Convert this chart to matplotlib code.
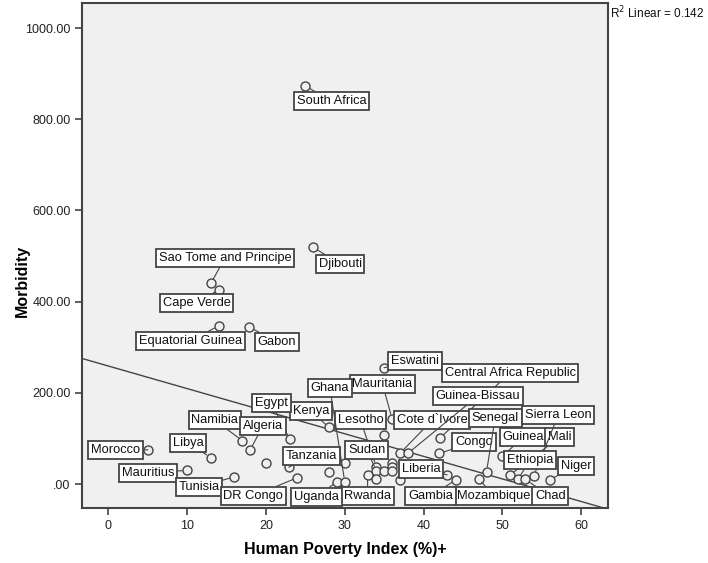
import matplotlib
matplotlib.use('Agg')
import matplotlib.pyplot as plt

plt.rcParams['font.family'] = ['Liberation Sans', 'DejaVu Sans']

# data: country label ('' = unlabelled point), HPI (%), morbidity
countries = ['South Africa', 'Djibouti', 'Sao Tome and Principe', 'Cape Verde',
             'Equatorial Guinea', 'Gabon', 'Eswatini', 'Mauritania', 'Kenya', '',
             'Central Africa Republic', 'Egypt', 'Namibia', 'Morocco', 'Algeria',
             'Cote d`Ivore', 'Guinea-Bissau', 'Congo', 'Guinea', 'Libya', '',
             '', '', 'Lesotho', '', 'Tanzania', 'Mauritius', 'Sudan', '', '', '',
             'Senegal', 'Rwanda', 'Liberia', 'Mali', 'Tunisia', 'DR Congo', '',
             'Mozambique', 'Sierra Leon', 'Ethiopia', 'Chad', '', 'Gambia', 'Niger',
             'Uganda', 'Ghana']
hpi = [25.0, 26.0, 13.0, 14.0, 14.0, 17.9, 35.0, 36.0, 28.0, 35.0,
       42.1, 23.0, 17.0, 5.0, 18.0, 37.0, 38.0, 42.0, 50.0, 13.0, 20.0,
       30.0, 36.0, 34.0, 36.0, 22.9, 10.0, 34.0, 35.0, 36.0, 28.0,
       48.0, 32.9, 43.0, 51.0, 16.0, 24.0, 34.0,
       47.0, 54.0, 52.0, 52.9, 37.0, 44.1, 56.0,
       29.0, 30.0]
morbidity = [873, 519, 440, 426, 347, 344, 255, 143, 124, 107,
             101, 98, 95, 75, 75, 67, 67, 67, 61, 58, 46,
             45, 45, 38, 38, 37, 30, 29, 29, 29, 26,
             27, 20, 20, 20, 16, 14, 12,
             12, 18, 10, 10, 9, 9, 9,
             5, 5]

# linear fit line as shown (intercept, slope) and its R squared
fit_intercept = 258.7
fit_slope = -4.95
r_squared = 0.142

yticks = [0, 200, 400, 600, 800, 1000]
ytick_labels = ['.00', '200.00', '400.00', '600.00', '800.00', '1000.00']
xticks = [0, 10, 20, 30, 40, 50, 60]

# where each label box sits (layout only)
label_pos = {
    'South Africa': (28.3, 840), 'Djibouti': (29.4, 483),
    'Sao Tome and Principe': (14.8, 496), 'Cape Verde': (11.2, 397),
    'Equatorial Guinea': (10.4, 314), 'Gabon': (21.4, 312),
    'Eswatini': (38.9, 270), 'Mauritania': (34.8, 219),
    'Central Africa Republic': (51.0, 244), 'Ghana': (28.1, 211),
    'Guinea-Bissau': (46.9, 193), 'Egypt': (20.7, 178), 'Kenya': (25.7, 160),
    'Namibia': (13.5, 140), 'Algeria': (19.6, 127), 'Lesotho': (32.0, 140),
    'Cote d`Ivore': (41.1, 140), 'Senegal': (49.1, 145),
    'Sierra Leon': (57.1, 151), 'Congo': (46.4, 92), 'Guinea': (52.7, 103),
    'Mali': (57.3, 103), 'Ethiopia': (53.5, 53), 'Niger': (59.4, 40),
    'Sudan': (32.8, 75), 'Tanzania': (25.8, 61), 'Liberia': (39.7, 33),
    'Morocco': (0.9, 75), 'Libya': (10.1, 90), 'Mauritius': (5.0, 24),
    'Tunisia': (11.5, -7), 'DR Congo': (18.4, -26), 'Uganda': (26.4, -28),
    'Rwanda': (32.9, -26), 'Gambia': (40.9, -26), 'Mozambique': (48.9, -26),
    'Chad': (56.1, -26),
}

edge = '#444444'
fig = plt.figure(figsize=(7.08, 5.63), dpi=100)
ax = fig.add_axes([0.1165, 0.0982, 0.742, 0.8965])
ax.set_facecolor('#f0f0f0')
ax.set_xlim(-3.3, 63.4)
ax.set_ylim(-52, 1055)

ax.scatter(hpi, morbidity, s=42, facecolors='#f0f0f0', edgecolors=edge,
           linewidths=1.0, zorder=3)

x0, x1 = ax.get_xlim()
ax.plot([x0, x1], [fit_intercept + fit_slope * x0, fit_intercept + fit_slope * x1],
        color=edge, lw=1.0, zorder=2)

for name, x, y in zip(countries, hpi, morbidity):
    if not name:
        continue
    lx, ly = label_pos[name]
    ax.annotate(name, xy=(x, y), xytext=(lx, ly), ha='center', va='center',
                fontsize=9.3, color='#111111', zorder=5,
                bbox=dict(boxstyle='square,pad=0.22', fc='white', ec=edge, lw=1.3),
                arrowprops=dict(arrowstyle='-', color=edge, lw=0.8,
                                shrinkA=0, shrinkB=3.5))

ax.set_yticks(yticks)
ax.set_yticklabels(ytick_labels)
ax.set_xticks(xticks)
ax.tick_params(direction='out', length=5, width=1.2, color=edge,
               labelsize=9, labelcolor='#222222')
for sp in ax.spines.values():
    sp.set_color(edge)
    sp.set_linewidth(1.5)

ax.set_xlabel('Human Poverty Index (%)+', fontsize=11.5, fontweight='bold')
ax.set_ylabel('Morbidity', fontsize=11.5, fontweight='bold')
ax.xaxis.set_label_coords(0.5, -0.068)
ax.yaxis.set_label_coords(-0.1, 0.45)

fig.text(0.861, 0.977, 'R$^2$ Linear = %.3f' % r_squared, fontsize=8.5,
         ha='left', va='center', color='#111111')

fig.savefig('out.png', dpi=100)
